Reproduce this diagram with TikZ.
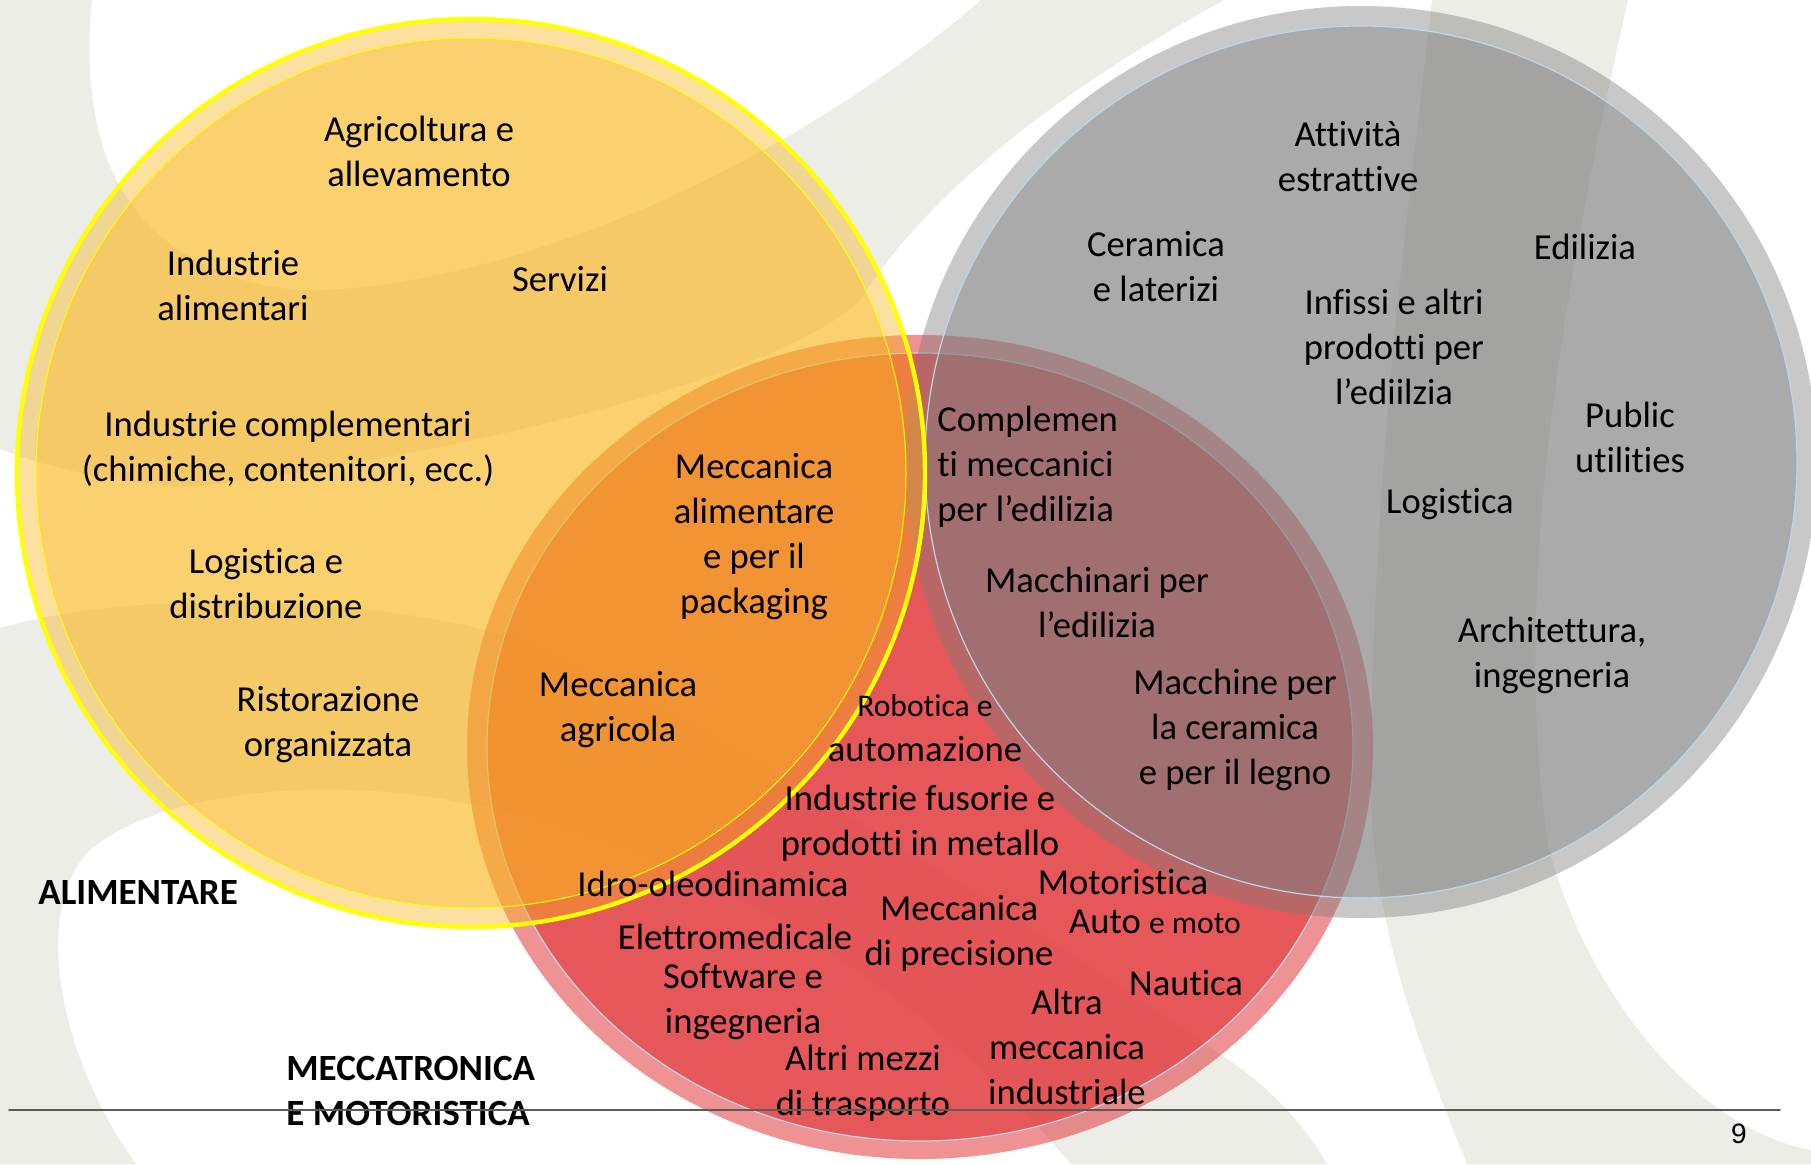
\documentclass[tikz,border=0pt]{standalone}
\usepackage{fontspec}
\setmainfont{Carlito}[Ligatures=NoCommon]
\newfontfamily\numfont{Liberation Sans}
\definecolor{beige}{RGB}{236,237,230}
\definecolor{ambra}{RGB}{250,182,30}
\definecolor{rosso}{RGB}{227,69,71}
\definecolor{grigio}{RGB}{125,125,125}
\definecolor{giallo}{RGB}{255,255,0}
\definecolor{azzurro}{RGB}{189,215,232}
\definecolor{linea}{RGB}{90,90,90}
\begin{document}
\begin{tikzpicture}[line cap=round,line join=round,x=0.5pt,y=-0.5pt,
    lbl/.style={align=center,inner sep=0pt,yshift=-2pt,font=\fontsize{18.3}{22.5}\selectfont},
    titolo/.style={align=left,anchor=west,inner sep=0pt,yshift=-1.5pt,font=\bfseries\fontsize{18.5}{22.5}\selectfont}]
    \useasboundingbox (0,0) rectangle (1811,1164);
    \clip (0,0) rectangle (1811,1164);
    % sfondo
    \fill[white] (0,0) rectangle (1811,1164);
    \fill[beige] (0,0) -- (92,0) .. controls (86,50) and (90,110) .. (104,150) .. controls (140,260) and (250,295) .. (330,290) .. controls (560,275) and (820,140) .. (981,0) -- (1224,0) .. controls (1060,90) and (930,190) .. (860,300) .. controls (780,380) and (430,460) .. (189,487) .. controls (110,482) and (50,468) .. (0,449) -- cycle;
    \fill[beige] (0,628) .. controls (150,585) and (400,600) .. (520,640) .. controls (700,720) and (1000,900) .. (1229,1060) .. controls (1280,1095) and (1310,1135) .. (1327,1164) -- (1071,1164) .. controls (900,960) and (650,830) .. (464,803) .. controls (330,775) and (160,790) .. (90,850) .. controls (30,910) and (60,1060) .. (136,1164) -- (0,1164) -- cycle;
    \fill[beige] (1432,0) -- (1628,0) .. controls (1560,300) and (1510,600) .. (1549,850) .. controls (1590,1000) and (1700,1130) .. (1811,1150) -- (1811,1164) -- (1467,1164) .. controls (1400,1000) and (1360,880) .. (1372,700) .. controls (1380,400) and (1410,200) .. (1432,0) -- cycle;
    % cerchi
    \coordinate (rc) at (920,747);
    \coordinate (gc) at (1361,462);
    \coordinate (yc) at (471,473);
    \fill[rosso,opacity=0.586,even odd rule] (rc) ellipse (453 and 412) (rc) ellipse (433 and 394);
    \fill[rosso,opacity=0.9] (rc) ellipse (433 and 394);
    \draw[azzurro,line width=0.6pt] (rc) ellipse (433 and 394);
    \fill[grigio,opacity=0.415,even odd rule] (gc) circle (456) (gc) circle (436);
    \fill[grigio,opacity=0.65] (gc) circle (436);
    \draw[azzurro,line width=0.6pt] (gc) circle (436);
    \fill[ambra,opacity=0.42,even odd rule] (yc) circle (455) (yc) circle (435);
    \fill[ambra,opacity=0.645] (yc) circle (435);
    \draw[giallo,line width=0.5pt] (yc) circle (435);
    \draw[giallo,line width=2.2pt] (yc) circle (454);
    % alimentare
    \node[lbl] (agricoltura) at (419,147) {Agricoltura e\\allevamento};
    \node[lbl] (indalim) at (233,281) {Industrie\\alimentari};
    \node[lbl] (servizi) at (560,275) {Servizi};
    \node[lbl] (indcompl) at (288,445) {Industrie complementari\\(chimiche, contenitori, ecc.)};
    \node[lbl] (logdistr) at (266,580) {Logistica e\\distribuzione};
    \node[lbl] (ristor) at (328,721) {Ristorazione\\organizzata};
    \node[lbl] (meccalim) at (754,533) {Meccanica\\alimentare\\e per il\\packaging};
    \node[lbl] (meccagr) at (618,706) {Meccanica\\agricola};
    % meccatronica
    \node[lbl] (robotica) at (925,724) {{\fontsize{15.8}{18}\selectfont Robotica e}\\automazione};
    \node[lbl] (fusorie) at (920,819) {Industrie fusorie e\\prodotti in metallo};
    \node[lbl] (idro) at (713,880) {Idro-oleodinamica};
    \node[lbl] (motoristica) at (1123,878) {Motoristica};
    \node[lbl] (automoto) at (1155,918) {Auto {\fontsize{15.8}{18}\selectfont e moto}};
    \node[lbl] (precisione) at (959,929) {Meccanica\\di precisione};
    \node[lbl] (elettromed) at (735,933) {Elettromedicale};
    \node[lbl] (software) at (743,998) {Software e\\ingegneria};
    \node[lbl] (nautica) at (1186,979) {Nautica};
    \node[lbl] (altramecc) at (1067,1043) {Altra\\meccanica\\industriale};
    \node[lbl] (mezzi) at (863,1079) {Altri mezzi\\di trasporto};
    \node[lbl,align=left,anchor=west] (complementi) at (937,463) {Complemen\\ti meccanici\\per l’edilizia};
    \node[lbl] (macchinari) at (1097,598) {Macchinari per\\l’edilizia};
    \node[lbl] (macchine) at (1235,726) {Macchine per\\la ceramica\\e per il legno};
    % edilizia
    \node[lbl] (attivita) at (1348,153) {Attività\\estrattive};
    \node[lbl] (ceramica) at (1156,263) {Ceramica\\e laterizi};
    \node[lbl] (edilizia) at (1585,243) {Edilizia};
    \node[lbl] (infissi) at (1394,343) {Infissi e altri\\prodotti per\\l’ediilzia};
    \node[lbl] (public) at (1630,433) {Public\\utilities};
    \node[lbl] (logistica) at (1450,500) {Logistica};
    \node[lbl] (archit) at (1552,651) {Architettura,\\ingegneria};
    % titoli
    \node[titolo] (alimentare) at (38,889) {ALIMENTARE};
    \node[titolo] (meccatronica) at (286,1088) {MECCATRONICA\\E MOTORISTICA};
    \coordinate (lineaA) at (9,1110);
    \coordinate (lineaB) at (1780,1110);
    \draw[linea,line width=0.8pt] (lineaA) -- (lineaB);
    \node[inner sep=0pt,font=\numfont\fontsize{14}{16}\selectfont] (pagina) at (1739,1134) {9};
\end{tikzpicture}
\end{document}
